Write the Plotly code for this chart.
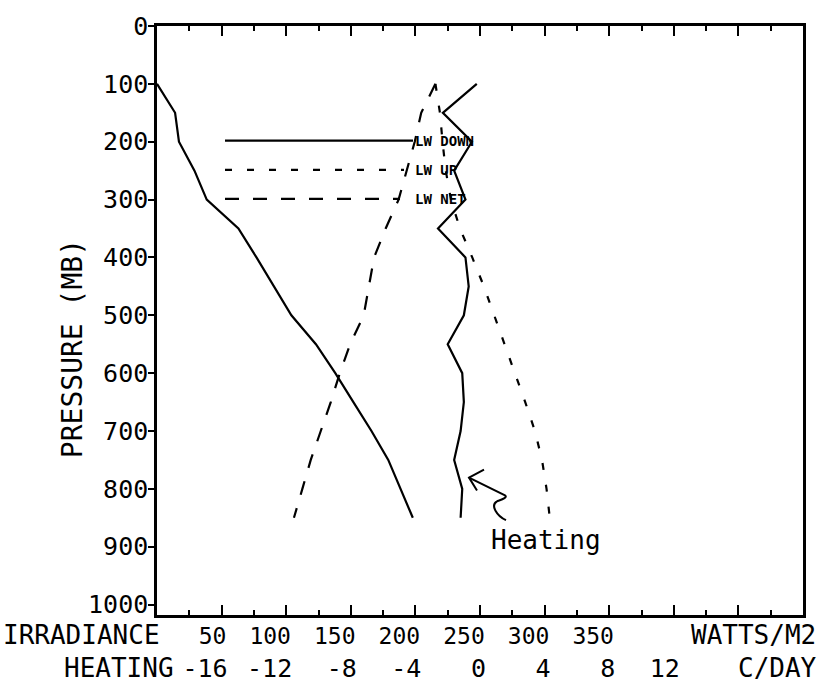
import plotly.graph_objects as go

# Pressure levels (mb) of the profile
pressure = [100, 150, 200, 250, 300, 350, 400, 450, 500, 550, 600, 650, 700, 750, 800, 850]

# Longwave irradiances (W/m2)
lw_down = [0, 14, 17, 29, 38.5, 63, 77, 90.5, 104, 123, 138, 152, 166, 179, 188.5, 198]
lw_up = [215.5, 219, 221, 223.5, 227.5, 234.5, 244, 253, 261, 269, 277.5, 285, 292.5, 298, 301.5, 304]
lw_net = [215.5, 204.5, 199.5, 193.5, 187, 177, 168, 164, 160, 149.5, 141.5, 134.5, 126.5, 119, 112.5, 106]

# Longwave heating rate (C/day)
heating = [-0.2, -2.3, -0.5, -1.6, -0.9, -2.6, -0.9, -0.7, -1.0, -2.0, -1.1, -1.0, -1.2, -1.6, -1.1, -1.2]

# Axis ticks
pressure_ticks = list(range(0, 1001, 100))
irr_ticks = [50, 100, 150, 200, 250, 300, 350, 400, 450]
irr_labels = ["50", "100", "150", "200", "250", "300", "350", "", ""]
heat_ticks = [-16, -12, -8, -4, 0, 4, 8, 12]
heat_labels = ["-16", "-12", "-8", "-4", "0", "4", "8", "12"]

W, H = 820, 695
L, R, T, B = 157, 803, 21, 617
FONT = "DejaVu Sans Mono"
INK = "black"


def px(x, y):
    """Pixel position -> paper coordinates."""
    return (x - L) / (R - L), 1 - (y - T) / (B - T)


def pstr(x, y):
    a, b = px(x, y)
    return f"{a:.5f},{b:.5f}"


fig = go.Figure()

fig.add_trace(go.Scatter(x=lw_down, y=pressure, mode="lines", xaxis="x", yaxis="y",
                         line=dict(color=INK, width=2.2), name="LW DOWN"))
fig.add_trace(go.Scatter(x=lw_up, y=pressure, mode="lines", xaxis="x", yaxis="y",
                         line=dict(color=INK, width=2.2, dash="7px,15px"), name="LW UP"))
fig.add_trace(go.Scatter(x=lw_net, y=pressure, mode="lines", xaxis="x", yaxis="y",
                         line=dict(color=INK, width=2.2, dash="14px,14px"), name="LW NET"))
fig.add_trace(go.Scatter(x=heating, y=pressure, mode="lines", xaxis="x2", yaxis="y",
                         line=dict(color=INK, width=2.2), name="Heating"))

shapes = []
annotations = []

# Legend keys
legend_rows = [
    ("LW DOWN", 137, "solid", 413),
    ("LW UP", 166.5, "7px,15px", 404),
    ("LW NET", 196, "14px,14px", 400),
]
for label, yy, dash, xend in legend_rows:
    x0, y0 = px(225, yy)
    x1, _ = px(xend, yy)
    shapes.append(dict(type="line", xref="paper", yref="paper", x0=x0, x1=x1, y0=y0, y1=y0,
                       line=dict(color=INK, width=2.2, dash=dash)))
    tx, ty = px(413, yy)
    annotations.append(dict(text=f"<b>{label}</b>", xref="paper", yref="paper", x=tx, y=ty,
                            xanchor="left", yanchor="middle", showarrow=False,
                            font=dict(family=FONT, size=14, color=INK)))

# Hand-drawn pointer to the heating curve
arrow = ("M " + pstr(506, 521) + " C " + pstr(497, 517) + " " + pstr(490, 506) + " " + pstr(497, 502)
         + " C " + pstr(502, 500) + " " + pstr(508, 498) + " " + pstr(505, 496)
         + " L " + pstr(469, 478))
shapes.append(dict(type="path", xref="paper", yref="paper", path=arrow,
                   line=dict(color=INK, width=2)))
shapes.append(dict(type="path", xref="paper", yref="paper",
                   path="M " + pstr(484, 470) + " L " + pstr(469, 478) + " L " + pstr(477, 491),
                   line=dict(color=INK, width=2)))
hx, hy = px(546, 541)
annotations.append(dict(text="Heating", xref="paper", yref="paper", x=hx, y=hy,
                        xanchor="center", yanchor="middle", showarrow=False,
                        font=dict(family=FONT, size=26, color=INK)))


# Axis captions
def caption(text, x, y, anchor, size=26, angle=0):
    ax, ay = px(x, y)
    annotations.append(dict(text=text, xref="paper", yref="paper", x=ax, y=ay,
                            xanchor=anchor, yanchor="middle", showarrow=False, textangle=angle,
                            font=dict(family=FONT, size=size, color=INK)))


caption("IRRADIANCE", 1, 637, "left")
caption("WATTS/M2", 818, 637, "right")
caption("HEATING", 176, 671, "right")
caption("C/DAY", 819, 671, "right")
caption("PRESSURE (MB)", 72, 348, "center", size=28, angle=-90)

fig.update_layout(
    width=W, height=H,
    margin=dict(l=L, r=W - R, t=T, b=H - B, pad=0),
    paper_bgcolor="white", plot_bgcolor="white",
    showlegend=False,
    shapes=shapes, annotations=annotations,
    xaxis=dict(
        range=[0, 500], showgrid=False, zeroline=False,
        showline=True, linecolor=INK, linewidth=2.5, mirror="ticks",
        ticks="inside", ticklen=10, tickwidth=2, tickcolor=INK,
        tickvals=irr_ticks, ticktext=irr_labels,
        ticklabelposition="outside left", ticklabelstandoff=-1, ticklabelshift=7,
        tickfont=dict(family=FONT, size=23, color=INK),
        minor=dict(tickvals=[25 + 50 * i for i in range(10)], ticks="inside", ticklen=5,
                   tickwidth=2, tickcolor=INK, showgrid=False),
    ),
    xaxis2=dict(
        range=[-20, 20], overlaying="x", anchor="free", position=0, side="bottom",
        showgrid=False, zeroline=False, showline=False, ticks="",
        tickvals=heat_ticks, ticktext=heat_labels,
        ticklabelposition="outside left", ticklabelstandoff=36, ticklabelshift=6,
        tickfont=dict(family=FONT, size=25, color=INK),
    ),
    yaxis=dict(
        range=[1018, 0], showgrid=False, zeroline=False,
        showline=True, linecolor=INK, linewidth=2.5, mirror=True,
        ticks="outside", ticklen=6, tickwidth=2, tickcolor=INK,
        tickvals=pressure_ticks, ticklabelstandoff=-5,
        tickfont=dict(family=FONT, size=25, color=INK),
    ),
)

fig.write_html("out.html")
